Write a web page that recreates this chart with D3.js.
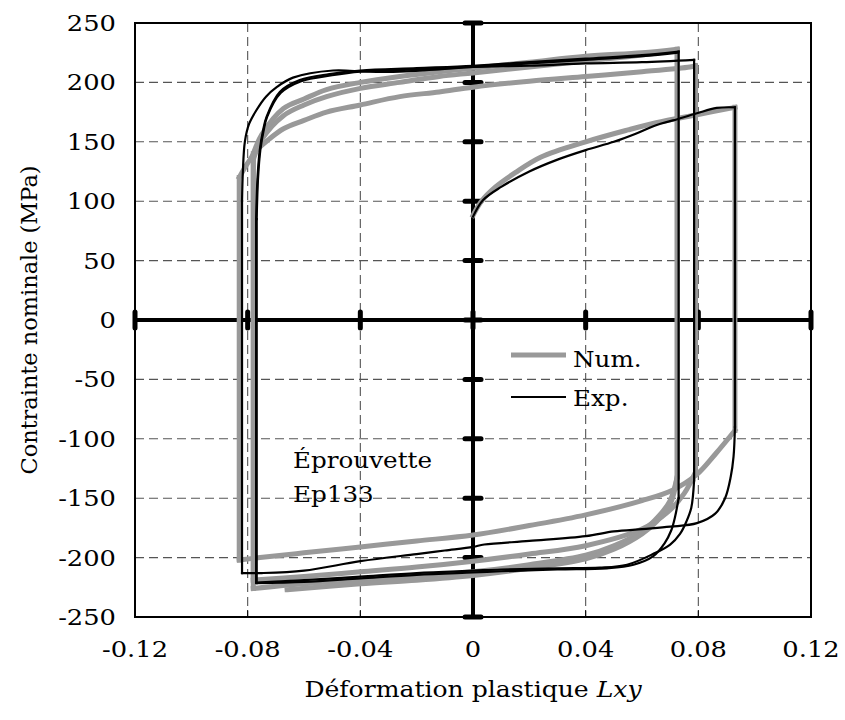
<!DOCTYPE html>
<html>
<head>
<meta charset="utf-8">
<script src="https://cdn.jsdelivr.net/npm/d3@7"></script>
<style>
  html, body { margin: 0; padding: 0; background: #fff; }
  svg { display: block; }
  text { font-family: "DejaVu Serif", serif; fill: #000; }
</style>
</head>
<body>
<svg id="chart" width="845" height="720"></svg>
<script>
// ---- Tick labels / axes ----
const xTicks = [-0.12, -0.08, -0.04, 0, 0.04, 0.08, 0.12];
const xTickLabels = ["-0.12", "-0.08", "-0.04", "0", "0.04", "0.08", "0.12"];
const yTicks = [250, 200, 150, 100, 50, 0, -50, -100, -150, -200, -250];
const yTickLabels = ["250", "200", "150", "100", "50", "0", "-50", "-100", "-150", "-200", "-250"];

// ---- Numerical (Num.) branches: [strain, stress] ----
const num1 = [[0,88],[0.003,100],[0.008,112],[0.015,124],[0.024,137],[0.04,150],[0.055,160],[0.065,166],[0.08,173],[0.093,179]];
const num2 = [[0.093,-93],[0.086,-113],[0.0795,-130],[0.071,-143],[0.06,-152],[0.04,-164],[0.02,-173],[0,-181],[-0.02,-186],[-0.04,-191],[-0.06,-196],[-0.0756,-200],[-0.083,-202]];
const num3 = [[-0.083,120],[-0.08,132],[-0.0768,143],[-0.0725,152],[-0.0673,161],[-0.06,168],[-0.052,175],[-0.04,181],[-0.026,188],[-0.012,192],[0,196],[0.02,201],[0.04,205],[0.06,209],[0.077,213],[0.079,214]];
const num4 = [[0.079,-128],[0.075,-146],[0.069,-162],[0.06,-176],[0.04,-190],[0.02,-197],[0,-203],[-0.02,-208],[-0.04,-212],[-0.06,-216],[-0.078,-219]];
const num5 = [[-0.078,135],[-0.075,152],[-0.0673,172],[-0.06,181],[-0.052,188],[-0.04,195],[-0.026,200],[-0.012,205],[0,208],[0.02,213],[0.04,218],[0.06,223],[0.0725,227]];
const num6 = [[0.0725,-132],[0.07,-152],[0.066,-165],[0.06,-178],[0.05,-190],[0.04,-198],[0.02,-206],[0,-212],[-0.02,-216],[-0.04,-219],[-0.06,-222],[-0.078,-226]];
const num7 = [[-0.078,140],[-0.075,156],[-0.0673,178],[-0.06,186],[-0.052,194],[-0.04,200],[-0.026,205],[-0.012,209],[0,212],[0.02,217],[0.04,222],[0.06,225],[0.0725,228]];
const num8 = [[0.0725,-132],[0.07,-155],[0.065,-170],[0.06,-180],[0.05,-193],[0.04,-201],[0.02,-209],[0,-215],[-0.02,-219],[-0.04,-222],[-0.066,-227]];
const numBranches = [num1, num2, num3, num4, num5, num6, num7, num8];

// ---- Experimental (Exp.) branches ----
const exp1 = [[0,87],[0.0036,101],[0.01,112],[0.02,125],[0.03,135],[0.04,143],[0.05,150],[0.058,157],[0.065,164],[0.071,168],[0.0795,174],[0.0865,178.5],[0.093,179]];
const exp2 = [[0.093,-90],[0.0925,-115],[0.0915,-132],[0.0895,-150],[0.086,-163],[0.0795,-171],[0.07,-174],[0.06,-176],[0.05,-178],[0.04,-182],[0.02,-186],[0.004,-189],[0,-191],[-0.01,-194],[-0.02,-197],[-0.04,-203],[-0.06,-211],[-0.075,-213],[-0.082,-213]];
const exp3 = [[-0.082,100],[-0.0817,125],[-0.081,150],[-0.0795,165],[-0.0768,177],[-0.0735,188],[-0.0697,196],[-0.0639,204],[-0.0497,210],[-0.0377,209],[-0.026,209],[-0.012,211],[0,213],[0.02,214],[0.04,216],[0.06,217],[0.0785,219]];
const exp4 = [[0.0785,-135],[0.0775,-158],[0.0757,-170],[0.0735,-180],[0.07,-189],[0.0639,-197],[0.0547,-206],[0.045,-208.5],[0.03,-209],[0.01,-210],[0,-211],[-0.02,-213],[-0.04,-216],[-0.06,-219],[-0.077,-221]];
const exp5 = [[-0.077,85],[-0.0765,120],[-0.0757,143],[-0.0745,160],[-0.0733,171],[-0.0686,192],[-0.0615,202],[-0.051,207],[-0.04,210],[-0.02,212],[0,214],[0.02,217],[0.04,220],[0.06,223],[0.073,226]];
const exp6 = [[0.073,-150],[0.0718,-165],[0.0704,-177],[0.068,-188],[0.0639,-199],[0.057,-206],[0.0475,-209],[0.03,-210],[0.01,-211.5],[0,-212.5],[-0.02,-214.5],[-0.04,-217.5],[-0.06,-220.5],[-0.0768,-221.5]];
const exp7 = [[-0.0768,85],[-0.0763,120],[-0.0755,143],[-0.0743,160],[-0.0731,171],[-0.0683,191],[-0.061,201],[-0.05,206],[-0.04,209],[-0.02,211],[0,213],[0.02,216],[0.04,219],[0.06,222],[0.0728,225]];
const expBranches = [exp1, exp2, exp3, exp4, exp5, exp6, exp7];

// ---- Layout ----
const svg = d3.select("#chart");
const L = 135, R = 811, T = 23, B = 617;
const x = d3.scaleLinear().domain([-0.12, 0.12]).range([L, R]);
const y = d3.scaleLinear().domain([-250, 250]).range([B, T]);
const SX = 1.12; // horizontal stretch to mimic the wide serif face

// Grid
const grid = svg.append("g").attr("stroke", "#555").attr("stroke-width", 1.1).attr("stroke-dasharray", "9,5");
grid.selectAll("line.gx").data(xTicks.filter(v => v !== 0 && Math.abs(v) < 0.12)).join("line")
  .attr("x1", d => x(d)).attr("x2", d => x(d)).attr("y1", T).attr("y2", B);
grid.selectAll("line.gy").data(yTicks.filter(v => v !== 0 && Math.abs(v) < 250)).join("line")
  .attr("x1", L).attr("x2", R).attr("y1", d => y(d)).attr("y2", d => y(d));

// small inner ticks on bottom edge
svg.append("g").selectAll("line").data(xTicks.filter(v => v !== 0 && Math.abs(v) < 0.12)).join("line")
  .attr("x1", d => x(d)).attr("x2", d => x(d)).attr("y1", B).attr("y2", B - 7)
  .attr("stroke", "#000").attr("stroke-width", 1);

// Frame
svg.append("rect").attr("x", L).attr("y", T).attr("width", R - L).attr("height", B - T)
  .attr("fill", "none").attr("stroke", "#000").attr("stroke-width", 2);

// Zero axes
svg.append("line").attr("x1", x(0)).attr("x2", x(0)).attr("y1", T).attr("y2", B)
  .attr("stroke", "#000").attr("stroke-width", 4);
svg.append("line").attr("x1", L).attr("x2", R).attr("y1", y(0)).attr("y2", y(0))
  .attr("stroke", "#000").attr("stroke-width", 4);

// Tick marks on zero axes (cross ticks)
svg.append("g").selectAll("line").data(yTicks).join("line")
  .attr("x1", x(0) - 8).attr("x2", x(0) + 8).attr("y1", d => y(d)).attr("y2", d => y(d))
  .attr("stroke", "#000").attr("stroke-width", 5).attr("stroke-linecap", "round");
svg.append("g").selectAll("line").data(xTicks).join("line")
  .attr("x1", d => x(d)).attr("x2", d => x(d)).attr("y1", y(0) - 8).attr("y2", y(0) + 8)
  .attr("stroke", "#000").attr("stroke-width", 5).attr("stroke-linecap", "round");

// Curves
const curve = d3.line().x(d => x(d[0])).y(d => y(d[1])).curve(d3.curveCatmullRom.alpha(0.5));
const straight = d3.line().x(d => x(d[0])).y(d => y(d[1]));
function connectors(branches) {
  const segs = [];
  for (let i = 1; i < branches.length; i++) {
    segs.push([branches[i - 1][branches[i - 1].length - 1], branches[i][0]]);
  }
  return segs;
}
function drawSeries(branches, color, width) {
  const g = svg.append("g").attr("fill", "none").attr("stroke", color).attr("stroke-width", width)
    .attr("stroke-linejoin", "miter").attr("stroke-linecap", "square");
  g.selectAll("path.c").data(branches).join("path").attr("class", "c").attr("d", curve);
  g.selectAll("path.s").data(connectors(branches)).join("path").attr("class", "s").attr("d", straight);
}
drawSeries(numBranches, "#999999", 5);
drawSeries(expBranches, "#000000", 2.2);

// Text helper (stretched horizontally)
function label(px, py, size, anchor, str, sx, rot) {
  const g = svg.append("g").attr("transform", `translate(${px},${py})${rot ? ` rotate(${rot})` : ""} scale(${sx},1)`);
  return g.append("text").attr("x", 0).attr("y", 0).attr("text-anchor", anchor).attr("font-size", size).text(str);
}

// Tick labels
yTicks.forEach((d, i) => label(116, y(d) + 8, 23, "end", yTickLabels[i], SX));
xTicks.forEach((d, i) => label(x(d), 657, 23, "middle", xTickLabels[i], SX));

// Axis titles
const xt = label(x(0), 697, 22, "middle", "", 1.14);
xt.append("tspan").text("Déformation plastique ");
xt.append("tspan").attr("font-style", "italic").text("Lxy");
label(37, y(0), 22, "middle", "Contrainte nominale (MPa)", 1.02, -90);

// Legend
svg.append("line").attr("x1", 511).attr("x2", 566).attr("y1", 355).attr("y2", 355)
  .attr("stroke", "#999999").attr("stroke-width", 5);
label(573, 367, 22, "start", "Num.", SX);
svg.append("line").attr("x1", 511).attr("x2", 566).attr("y1", 397).attr("y2", 397)
  .attr("stroke", "#000").attr("stroke-width", 2.2);
label(573, 406, 22, "start", "Exp.", SX);

// Annotation
label(293, 468, 22, "start", "Éprouvette", SX);
label(293, 502, 22, "start", "Ep133", SX);
</script>
</body>
</html>
